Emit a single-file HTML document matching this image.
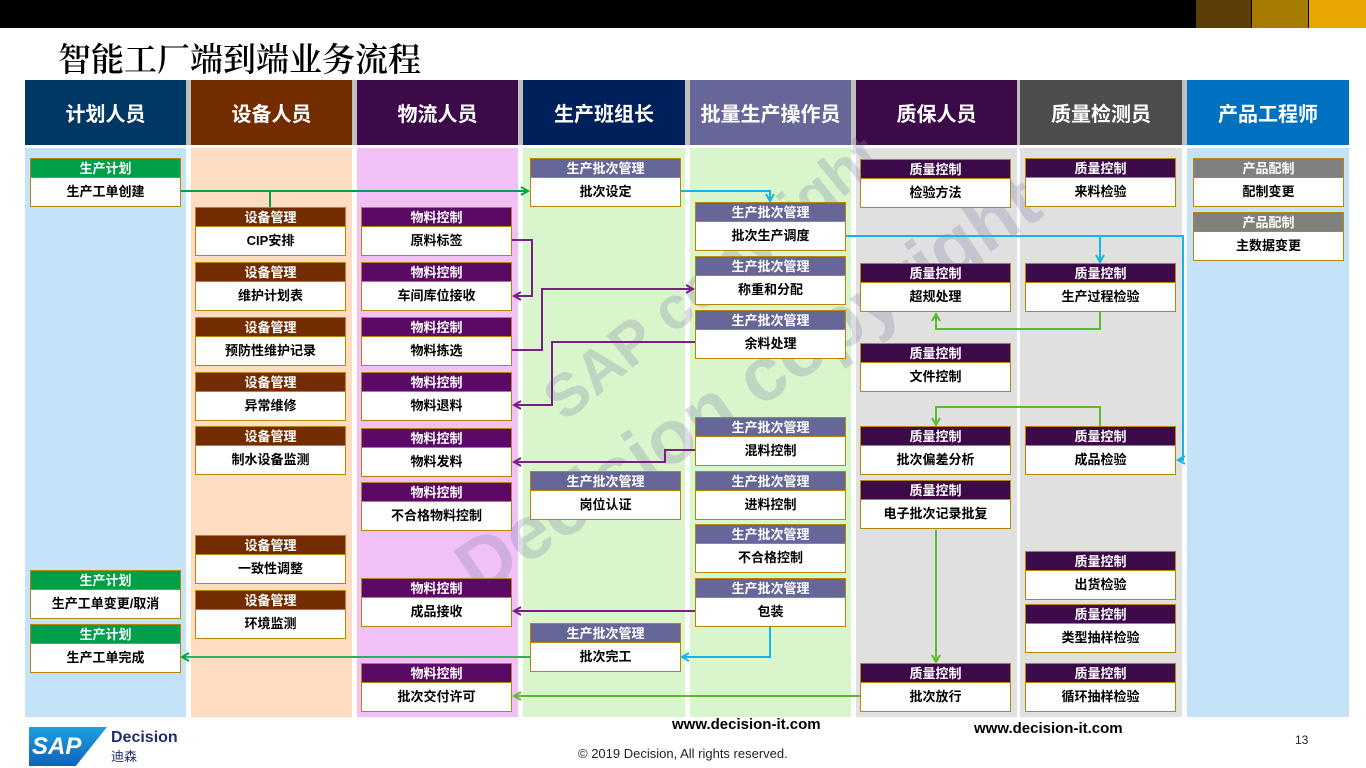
<!DOCTYPE html><html><head><meta charset="utf-8"><style>
*{margin:0;padding:0;box-sizing:border-box}
body{width:1366px;height:768px;position:relative;background:#fff;overflow:hidden;font-family:"Liberation Sans","Noto Sans CJK SC",sans-serif}
.a{position:absolute}
.hd{position:absolute;top:80px;height:65px;color:#fff;font-size:20px;font-weight:bold;display:flex;align-items:center;justify-content:center;font-family:"Noto Sans CJK SC",sans-serif}
.ln{position:absolute;top:148px;height:569px}
.b{position:absolute;width:151px;height:49px;border:1.5px solid #B8860B;background:#fff}
.b .t{height:19px;color:#fff;font-size:13px;font-weight:bold;text-align:center;line-height:19px;border-bottom:1.5px solid #B8860B}
.b .c{font-size:13px;font-weight:bold;text-align:center;line-height:27px;color:#000}
.g .t{background:#00A04A}.br .t{background:#732C00}.p .t{background:#5A0A64}.v .t{background:#666699}.q .t{background:#3C0A49}.gr .t{background:#808080}
.wm{position:absolute;transform-origin:left top;font-weight:bold;color:rgba(130,130,170,0.28);white-space:nowrap}
</style></head><body>
<div class="a" style="left:0;top:0;width:1366px;height:28px;background:#000"></div>
<div class="a" style="left:1196px;top:0;width:55px;height:28px;background:#5C3D0A"></div>
<div class="a" style="left:1252px;top:0;width:56px;height:28px;background:#A67C00"></div>
<div class="a" style="left:1309px;top:0;width:57px;height:28px;background:#E8A800"></div>
<div class="a" style="left:58px;top:34px;font-size:33px;font-weight:600;font-family:'Noto Serif CJK SC',serif;color:#000">智能工厂端到端业务流程</div>

<div class="a" style="left:25px;top:80px;width:1324px;height:637px;background:#BFBFBF"></div>
<div class="hd" style="left:25px;width:161px;background:#003865">计划人员</div>
<div class="hd" style="left:191px;width:161px;background:#732C00">设备人员</div>
<div class="hd" style="left:357px;width:161px;background:#3C0A49">物流人员</div>
<div class="hd" style="left:523px;width:162px;background:#00205B">生产班组长</div>
<div class="hd" style="left:690px;width:161px;background:#666699">批量生产操作员</div>
<div class="hd" style="left:856px;width:161px;background:#3C0A49">质保人员</div>
<div class="hd" style="left:1020px;width:162px;background:#4D4D4D">质量检测员</div>
<div class="hd" style="left:1187px;width:162px;background:#0070C0">产品工程师</div>
<div class="a" style="left:25px;top:145px;width:1324px;height:572px;background:#fff"></div>
<div class="ln" style="left:25px;width:161px;background:#C5E3F8"></div>
<div class="ln" style="left:191px;width:161px;background:#FDDCC2"></div>
<div class="ln" style="left:357px;width:161px;background:#F0C0F7"></div>
<div class="ln" style="left:523px;width:162px;background:#D8F5CB"></div>
<div class="ln" style="left:690px;width:161px;background:#D8F5CB"></div>
<div class="ln" style="left:856px;width:161px;background:#E0E0E0"></div>
<div class="ln" style="left:1020px;width:162px;background:#E0E0E0"></div>
<div class="ln" style="left:1187px;width:162px;background:#C5E3F8"></div>

<div class="wm" style="left:530px;top:380px;transform:rotate(-39deg);font-size:60px">SAP copyright</div>
<div class="wm" style="left:440px;top:540px;transform:rotate(-34deg);font-size:76px">Decision copyright</div>

<svg class="a" style="left:0;top:0" width="1366" height="768">
<defs>
<marker id="mg" markerWidth="10" markerHeight="10" refX="8" refY="5" orient="auto" markerUnits="userSpaceOnUse"><path d="M1,1 L8,5 L1,9" fill="none" stroke="#00A04A" stroke-width="2"/></marker>
<marker id="ml" markerWidth="10" markerHeight="10" refX="8" refY="5" orient="auto" markerUnits="userSpaceOnUse"><path d="M1,1 L8,5 L1,9" fill="none" stroke="#5BBB2E" stroke-width="2"/></marker>
<marker id="mc" markerWidth="10" markerHeight="10" refX="8" refY="5" orient="auto" markerUnits="userSpaceOnUse"><path d="M1,1 L8,5 L1,9" fill="none" stroke="#18B4E8" stroke-width="2"/></marker>
<marker id="mp" markerWidth="10" markerHeight="10" refX="8" refY="5" orient="auto" markerUnits="userSpaceOnUse"><path d="M1,1 L8,5 L1,9" fill="none" stroke="#7B1F87" stroke-width="2"/></marker>
</defs>
<g fill="none" stroke-width="2">
<path d="M180,191 H528" stroke="#00A04A" marker-end="url(#mg)"/>
<path d="M270,191 V207" stroke="#00A04A"/>
<path d="M680,191 H770 V201" stroke="#18B4E8" marker-end="url(#mc)"/>
<path d="M845,236 H1183 V460 H1178" stroke="#18B4E8" marker-end="url(#mc)"/>
<path d="M1100,236 V262" stroke="#18B4E8" marker-end="url(#mc)"/>
<path d="M512,240 H532 V296 H514" stroke="#7B1F87" marker-end="url(#mp)"/>
<path d="M512,350 H542 V289 H693" stroke="#7B1F87" marker-end="url(#mp)"/>
<path d="M695,342 H552 V405 H514" stroke="#7B1F87" marker-end="url(#mp)"/>
<path d="M695,450 H665 V462 H514" stroke="#7B1F87" marker-end="url(#mp)"/>
<path d="M695,611 H514" stroke="#7B1F87" marker-end="url(#mp)"/>
<path d="M770,627 V657 H682" stroke="#18B4E8" marker-end="url(#mc)"/>
<path d="M530,657 H182" stroke="#2FAE5C" marker-end="url(#mg)"/>
<path d="M860,696 H514" stroke="#5BBB2E" marker-end="url(#ml)"/>
<path d="M936,530 V662" stroke="#5BBB2E" marker-end="url(#ml)"/>
<path d="M1100,312 V329 H936 V314" stroke="#5BBB2E" marker-end="url(#ml)"/>
<path d="M1100,427 V407 H936 V425" stroke="#5BBB2E" marker-end="url(#ml)"/>
</g></svg>

<div class="b g" style="left:30px;top:158px"><div class="t">生产计划</div><div class="c">生产工单创建</div></div>
<div class="b g" style="left:30px;top:570px"><div class="t">生产计划</div><div class="c">生产工单变更/取消</div></div>
<div class="b g" style="left:30px;top:624px"><div class="t">生产计划</div><div class="c">生产工单完成</div></div>

<div class="b br" style="left:195px;top:207px"><div class="t">设备管理</div><div class="c">CIP安排</div></div>
<div class="b br" style="left:195px;top:262px"><div class="t">设备管理</div><div class="c">维护计划表</div></div>
<div class="b br" style="left:195px;top:317px"><div class="t">设备管理</div><div class="c">预防性维护记录</div></div>
<div class="b br" style="left:195px;top:372px"><div class="t">设备管理</div><div class="c">异常维修</div></div>
<div class="b br" style="left:195px;top:426px"><div class="t">设备管理</div><div class="c">制水设备监测</div></div>
<div class="b br" style="left:195px;top:535px"><div class="t">设备管理</div><div class="c">一致性调整</div></div>
<div class="b br" style="left:195px;top:590px"><div class="t">设备管理</div><div class="c">环境监测</div></div>

<div class="b p" style="left:361px;top:207px"><div class="t">物料控制</div><div class="c">原料标签</div></div>
<div class="b p" style="left:361px;top:262px"><div class="t">物料控制</div><div class="c">车间库位接收</div></div>
<div class="b p" style="left:361px;top:317px"><div class="t">物料控制</div><div class="c">物料拣选</div></div>
<div class="b p" style="left:361px;top:372px"><div class="t">物料控制</div><div class="c">物料退料</div></div>
<div class="b p" style="left:361px;top:428px"><div class="t">物料控制</div><div class="c">物料发料</div></div>
<div class="b p" style="left:361px;top:482px"><div class="t">物料控制</div><div class="c">不合格物料控制</div></div>
<div class="b p" style="left:361px;top:578px"><div class="t">物料控制</div><div class="c">成品接收</div></div>
<div class="b p" style="left:361px;top:663px"><div class="t">物料控制</div><div class="c">批次交付许可</div></div>

<div class="b v" style="left:530px;top:158px"><div class="t">生产批次管理</div><div class="c">批次设定</div></div>
<div class="b v" style="left:530px;top:471px"><div class="t">生产批次管理</div><div class="c">岗位认证</div></div>
<div class="b v" style="left:530px;top:623px"><div class="t">生产批次管理</div><div class="c">批次完工</div></div>

<div class="b v" style="left:695px;top:202px"><div class="t">生产批次管理</div><div class="c">批次生产调度</div></div>
<div class="b v" style="left:695px;top:256px"><div class="t">生产批次管理</div><div class="c">称重和分配</div></div>
<div class="b v" style="left:695px;top:310px"><div class="t">生产批次管理</div><div class="c">余料处理</div></div>
<div class="b v" style="left:695px;top:417px"><div class="t">生产批次管理</div><div class="c">混料控制</div></div>
<div class="b v" style="left:695px;top:471px"><div class="t">生产批次管理</div><div class="c">进料控制</div></div>
<div class="b v" style="left:695px;top:524px"><div class="t">生产批次管理</div><div class="c">不合格控制</div></div>
<div class="b v" style="left:695px;top:578px"><div class="t">生产批次管理</div><div class="c">包装</div></div>

<div class="b q" style="left:860px;top:159px"><div class="t">质量控制</div><div class="c">检验方法</div></div>
<div class="b q" style="left:860px;top:263px"><div class="t">质量控制</div><div class="c">超规处理</div></div>
<div class="b q" style="left:860px;top:343px"><div class="t">质量控制</div><div class="c">文件控制</div></div>
<div class="b q" style="left:860px;top:426px"><div class="t">质量控制</div><div class="c">批次偏差分析</div></div>
<div class="b q" style="left:860px;top:480px"><div class="t">质量控制</div><div class="c">电子批次记录批复</div></div>
<div class="b q" style="left:860px;top:663px"><div class="t">质量控制</div><div class="c">批次放行</div></div>

<div class="b q" style="left:1025px;top:158px"><div class="t">质量控制</div><div class="c">来料检验</div></div>
<div class="b q" style="left:1025px;top:263px"><div class="t">质量控制</div><div class="c">生产过程检验</div></div>
<div class="b q" style="left:1025px;top:426px"><div class="t">质量控制</div><div class="c">成品检验</div></div>
<div class="b q" style="left:1025px;top:551px"><div class="t">质量控制</div><div class="c">出货检验</div></div>
<div class="b q" style="left:1025px;top:604px"><div class="t">质量控制</div><div class="c">类型抽样检验</div></div>
<div class="b q" style="left:1025px;top:663px"><div class="t">质量控制</div><div class="c">循环抽样检验</div></div>

<div class="b gr" style="left:1193px;top:158px"><div class="t">产品配制</div><div class="c">配制变更</div></div>
<div class="b gr" style="left:1193px;top:212px"><div class="t">产品配制</div><div class="c">主数据变更</div></div>

<div class="a" style="left:29px;top:727px;width:78px;height:39px;background:linear-gradient(#1BA1E2,#1460B8);clip-path:polygon(0 0,100% 0,60% 100%,0 100%);color:#fff;font-weight:bold;font-size:24px;line-height:39px;padding-left:3px;font-style:italic">SAP</div>
<div class="a" style="left:111px;top:729px;font-size:16px;font-weight:bold;color:#1F2F6B">Decision</div>
<div class="a" style="left:111px;top:746px;font-size:13px;color:#1F2F6B">迪森</div>
<div class="a" style="left:672px;top:716px;font-size:15px;font-weight:bold">www.decision-it.com</div>
<div class="a" style="left:974px;top:720px;font-size:15px;font-weight:bold">www.decision-it.com</div>
<div class="a" style="left:578px;top:746px;font-size:13px;color:#222">© 2019 Decision, All rights reserved.</div>
<div class="a" style="left:1295px;top:733px;font-size:12px;color:#222">13</div>
</body></html>
